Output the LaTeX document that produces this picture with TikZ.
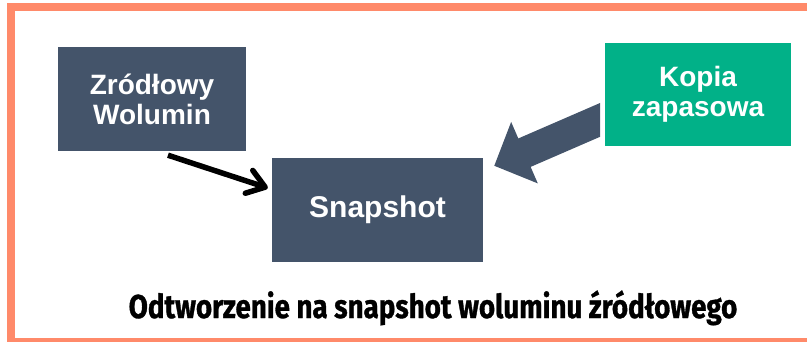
\documentclass[tikz,border=0pt]{standalone}
\usepackage{fontspec}
\setmainfont{Liberation Sans}
\newfontfamily\capfont{Fira Sans}[FakeStretch=0.84, FakeBold=1]
\usetikzlibrary{arrows.meta}
\definecolor{slate}{HTML}{44546A}
\definecolor{hpegreen}{HTML}{01B188}
\definecolor{salmon}{HTML}{FF8A6A}

\begin{document}
\begin{tikzpicture}[x=1pt, y=-1pt, >=Stealth,
  volbox/.style={fill=slate, text=white, align=center, inner sep=0pt,
    font=\bfseries\fontsize{28}{30}\selectfont},
  blockarrow/.style={slate, line width=31pt, -{Triangle[length=33pt, width=65pt]}}]
  \useasboundingbox (0,0) rectangle (807,341);
  % --- frame ---
  \draw[salmon, line width=8pt] (11,7) rectangle (812,342);
  % --- boxes ---
  \node[volbox, minimum width=188pt, minimum height=104pt] (zrod) at (152,99) {Zródłowy\\Wolumin};
  \node[volbox, minimum width=211pt, minimum height=104pt,
    font=\bfseries\fontsize{30}{32}\selectfont] (snap) at (377.5,210) {Snapshot};
  \node[volbox, fill=hpegreen, minimum width=186pt, minimum height=103pt] (kopia) at (698,94.5) {Kopia\\zapasowa};
  % --- arrows ---
  \draw[line width=5.5pt, -{Straight Barb[length=17pt, width=24pt, round]}]
    ([shift={(16,4)}]zrod.south) -- ([shift={(-4,-22)}]snap.west);
  \begin{scope}
    \clip (0,0) rectangle (600,341);
    \draw[blockarrow] ([shift={(10,19)}]kopia.west) -- ([shift={(11,8)}]snap.north east);
  \end{scope}
  % --- caption ---
  \node[font=\capfont\bfseries\fontsize{33}{35}\selectfont, inner sep=0pt, anchor=base] (caption) at (433,318)
    {Odtworzenie na snapshot woluminu źródłowego};
\end{tikzpicture}
\end{document}
